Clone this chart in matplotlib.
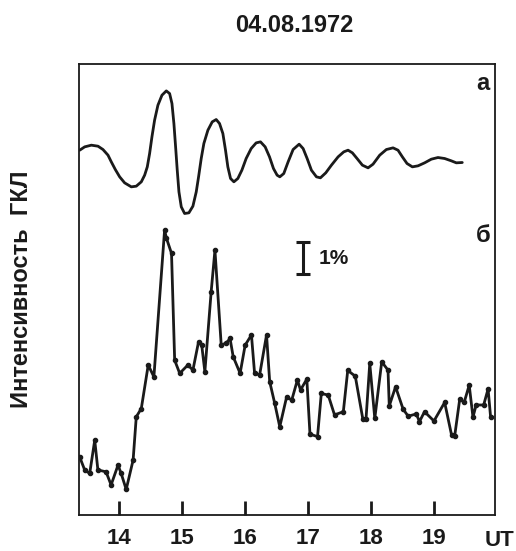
import matplotlib
matplotlib.use('Agg')
from matplotlib import pyplot as plt

plt.rc('font', family=['Liberation Sans', 'DejaVu Sans'], weight='bold')

# time, UT (hours) and intensity (%, arbitrary zero)
# curve "а" -- smooth oscillation
t_a = [13.371, 13.450, 13.556, 13.662, 13.741, 13.821, 13.873, 13.937, 14.006, 14.085,
       14.191, 14.270, 14.350, 14.403, 14.445, 14.482, 14.519, 14.561, 14.614, 14.678,
       14.747, 14.800, 14.837, 14.868, 14.895, 14.921, 14.948, 14.985, 15.038, 15.106,
       15.170, 15.223, 15.260, 15.302, 15.344, 15.408, 15.477, 15.540, 15.593, 15.646,
       15.688, 15.725, 15.768, 15.821, 15.884, 15.948, 16.016, 16.096, 16.175, 16.244,
       16.318, 16.387, 16.450, 16.508, 16.551, 16.614, 16.683, 16.762, 16.858, 16.921,
       16.985, 17.053, 17.133, 17.196, 17.281, 17.371, 17.477, 17.567, 17.635, 17.704,
       17.778, 17.863, 17.953, 18.032, 18.138, 18.244, 18.350, 18.429, 18.498, 18.572,
       18.657, 18.747, 18.852, 18.958, 19.064, 19.170, 19.276, 19.355, 19.450]
v_a = [11.406, 11.510, 11.563, 11.531, 11.427, 11.250, 11.042, 10.802, 10.573, 10.385,
       10.260, 10.281, 10.417, 10.625, 10.885, 11.302, 11.823, 12.344, 12.813, 13.125,
       13.260, 13.177, 12.865, 12.240, 11.510, 10.781, 10.104, 9.635, 9.427, 9.448,
       9.656, 10.104, 10.573, 11.146, 11.615, 12.031, 12.292, 12.365, 12.240, 11.927,
       11.406, 10.885, 10.521, 10.417, 10.521, 10.781, 11.146, 11.458, 11.635, 11.667,
       11.510, 11.198, 10.833, 10.625, 10.573, 10.677, 11.042, 11.427, 11.594, 11.458,
       11.146, 10.781, 10.573, 10.542, 10.698, 10.938, 11.198, 11.354, 11.406, 11.323,
       11.146, 10.938, 10.854, 10.969, 11.250, 11.427, 11.479, 11.406, 11.198, 10.990,
       10.885, 10.917, 11.011, 11.125, 11.177, 11.146, 11.073, 11.011, 11.021]

# curve "б" -- cosmic ray intensity
t_b = [13.37, 13.45, 13.53, 13.61, 13.66, 13.79, 13.87, 13.98, 14.03, 14.11,
       14.22, 14.27, 14.35, 14.46, 14.55, 14.72, 14.75, 14.83, 14.88, 14.96,
       15.09, 15.17, 15.26, 15.31, 15.36, 15.46, 15.52, 15.62, 15.70, 15.76,
       15.81, 15.92, 16.00, 16.10, 16.15, 16.23, 16.34, 16.39, 16.47, 16.55,
       16.66, 16.74, 16.83, 16.88, 16.98, 17.03, 17.15, 17.21, 17.32, 17.42,
       17.56, 17.63, 17.75, 17.87, 17.92, 17.98, 18.06, 18.17, 18.27, 18.29,
       18.39, 18.51, 18.59, 18.72, 18.77, 18.85, 19.00, 19.17, 19.28, 19.33,
       19.41, 19.48, 19.56, 19.62, 19.67, 19.79, 19.86, 19.90]
v_b = [1.82, 1.41, 1.30, 2.34, 1.41, 1.35, 0.94, 1.56, 1.30, 0.80,
       1.72, 3.07, 3.33, 4.69, 4.32, 8.91, 8.65, 8.18, 4.84, 4.43,
       4.69, 4.53, 5.42, 5.31, 4.48, 6.98, 8.28, 5.31, 5.38, 5.52,
       4.95, 4.43, 5.31, 5.63, 4.43, 4.38, 5.63, 4.17, 3.49, 2.76,
       3.70, 3.59, 4.22, 3.91, 4.25, 2.53, 2.45, 3.80, 3.75, 3.13,
       3.23, 4.52, 4.34, 3.00, 2.99, 4.74, 3.02, 4.79, 4.53, 3.41,
       4.01, 3.31, 3.09, 3.16, 2.92, 3.23, 2.94, 3.52, 2.50, 2.48,
       3.63, 3.52, 4.06, 3.06, 3.44, 3.44, 3.94, 3.07]

hours = [14, 15, 16, 17, 18, 19]
scale_t = 16.92
scale_lo, scale_hi = 7.53, 8.53   # 1 % bar

ink = '#1a1a1a'
fig = plt.figure(figsize=(5.16, 5.51), dpi=100)
ax = fig.add_axes([0.1531, 0.0653, 0.8062, 0.8185])

ax.plot(t_a, v_a, color=ink, lw=2.0, solid_joinstyle='round', solid_capstyle='round')
ax.plot(t_b, v_b, color=ink, lw=2.0, marker='o', ms=3, solid_joinstyle='round')

# 1 % scale bar
ax.errorbar([scale_t], [(scale_lo + scale_hi) / 2], yerr=[(scale_hi - scale_lo) / 2],
            color=ink, lw=2.2, capsize=5, capthick=2.2)
ax.text(scale_t + 0.24, (scale_lo + scale_hi) / 2, '1%', fontsize=15,
        ha='left', va='center', color=ink)

ax.text(19.78, 13.5, 'а', fontsize=17, ha='center', va='center', color=ink)
ax.text(19.78, 8.75, 'б', fontsize=17, ha='center', va='center', color=ink)

ax.set_xlim(13.36, 19.97)
ax.set_ylim(0, 14.1)
ax.set_yticks([])
ax.xaxis.set_ticks_position('bottom')
ax.set_xticks(hours, [str(h) for h in hours])
ax.xaxis.set_tick_params(which='major', direction='in', length=10, width=2.0,
                         color=ink, pad=9, labelsize=16, labelcolor=ink)
for s in ax.spines.values():
    s.set_linewidth(1.3)
    s.set_color(ink)

fig.text(500 / 516, 1 - 540 / 551, 'UT', fontsize=16, ha='center', va='center', color=ink)
fig.text(294 / 516, 1 - 25 / 551, '04.08.1972', fontsize=17, ha='center', va='center', color=ink)
fig.text(22 / 516, 1 - 289 / 551, 'Интенсивность  ГКЛ', fontsize=17, rotation=90,
         ha='center', va='center', color=ink)

fig.savefig('out.png', dpi=100)
